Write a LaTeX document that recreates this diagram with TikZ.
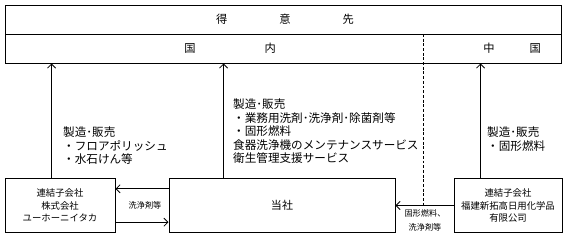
\documentclass[tikz,border=0pt]{standalone}
\usepackage{fontspec}
\setmainfont{Noto Sans CJK JP}
\usetikzlibrary{arrows.meta}

\begin{document}
\begin{tikzpicture}[x=0.03cm, y=-0.03cm,
    frame/.style={rectangle, draw, line width=0.8pt, minimum width=16.68cm, minimum height=0.87cm, inner sep=0pt, font=\fontsize{9.6}{11.5}\selectfont},
    box/.style={rectangle, draw, line width=0.8pt, minimum height=1.62cm, align=center, inner sep=0pt, font=\fontsize{8}{10.6}\selectfont},
    note/.style={anchor=north west, align=left, inner sep=0pt, font=\fontsize{9.9}{11.5}\selectfont},
    tag/.style={align=center, inner sep=0pt, font=\fontsize{7}{12}\selectfont},
    arrow/.style={->, >={Straight Barb[length=3.5pt,width=7pt]}, line width=0.7pt},
]
\useasboundingbox (0,0) rectangle (567,238);

% customers
\node[frame] (cust) at (283,19.5) {};
\node[frame] (dom) at (283,48.5) {};
\node[font=\fontsize{9.6}{11.5}\selectfont] (custtxt) at (285,19.5) {得\hspace{1.56cm}意\hspace{1.56cm}先};
\node[font=\fontsize{9.6}{11.5}\selectfont] (domtxt) at (230,48.5) {国\hspace{2.07cm}内};
\node[font=\fontsize{9.6}{11.5}\selectfont] (chntxt) at (512,48.5) {中\hspace{1.05cm}国};
\coordinate (div) at (423,34);

% group companies
\node[box, minimum width=3.3cm] (yuho) at (60,205.5) {連結子会社\\株式会社\\ユーホーニイタカ};
\node[box, minimum width=6.78cm, font=\fontsize{9.4}{11}\selectfont] (tosha) at (282,205.5) {当社};
\node[box, minimum width=3.24cm] (fuken) at (508,205.5) {連結子会社\\福建新拓高日用化学品\\有限公司};

\draw[dashed, dash pattern=on 2.5pt off 1.5pt, line width=0.6pt] (div) -- (div |- fuken.west);

% flows to customers
\draw[arrow] ([xshift=1.41cm]yuho.north west) coordinate (a1) -- (a1 |- dom.south);
\draw[arrow] ([xshift=1.65cm]tosha.north west) coordinate (a2) -- (a2 |- dom.south);
\draw[arrow] ([xshift=0.81cm]fuken.north west) coordinate (a3) -- (a3 |- dom.south);

\node[note] (n1) at (63,127) {製造･販売\\・フロアポリッシュ\\・水石けん等};
\node[note] (n2) at (233,99) {製造･販売\\・業務用洗剤･洗浄剤･除菌剤等\\・固形燃料\\食器洗浄機のメンテナンスサービス\\衛生管理支援サービス};
\node[note] (n3) at (487,127) {製造･販売\\・固形燃料};

% flows between companies
\draw[arrow] ([yshift=0.5cm]tosha.west) -- ([yshift=0.5cm]yuho.east);
\draw[arrow] ([yshift=-0.5cm]yuho.east) -- ([yshift=-0.5cm]tosha.west);
\node[tag] (t1) at (145,205) {洗浄剤等};
\draw[arrow] (fuken.west) -- (fuken.west -| tosha.east);
\node[tag] (t2) at (425,220) {固形燃料、\\洗浄剤等};
\end{tikzpicture}
\end{document}
